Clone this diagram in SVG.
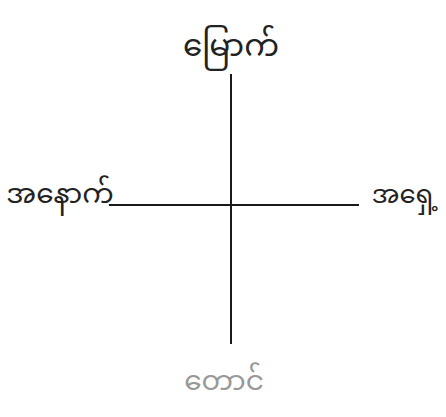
<svg xmlns="http://www.w3.org/2000/svg" width="446" height="417" viewBox="0 0 446 417">
<style>
.t{font-family:"Noto Sans Myanmar","Padauk","Myanmar Text","Noto Sans",sans-serif;font-size:28px;fill:#222}
.ln{stroke:#1a1a1a;stroke-width:2;fill:none}
</style>
<rect width="446" height="417" fill="#fff"/>
<g id="connectors">
<line class="ln" x1="231" y1="74" x2="231" y2="344"/>
<line class="ln" x1="109" y1="205" x2="359" y2="205"/>
</g>
<g id="north"><text class="t" x="231" y="56" text-anchor="middle" style="font-size:31px">မြောက်</text></g>
<g id="west"><text class="t" x="60" y="203" text-anchor="middle">အနောက်</text></g>
<g id="east"><text class="t" x="405" y="203" text-anchor="middle" style="font-size:26px">အရှေ့</text></g>
<g id="south"><text class="t" x="224" y="390" text-anchor="middle" style="fill:#999">တောင်</text></g>
</svg>
